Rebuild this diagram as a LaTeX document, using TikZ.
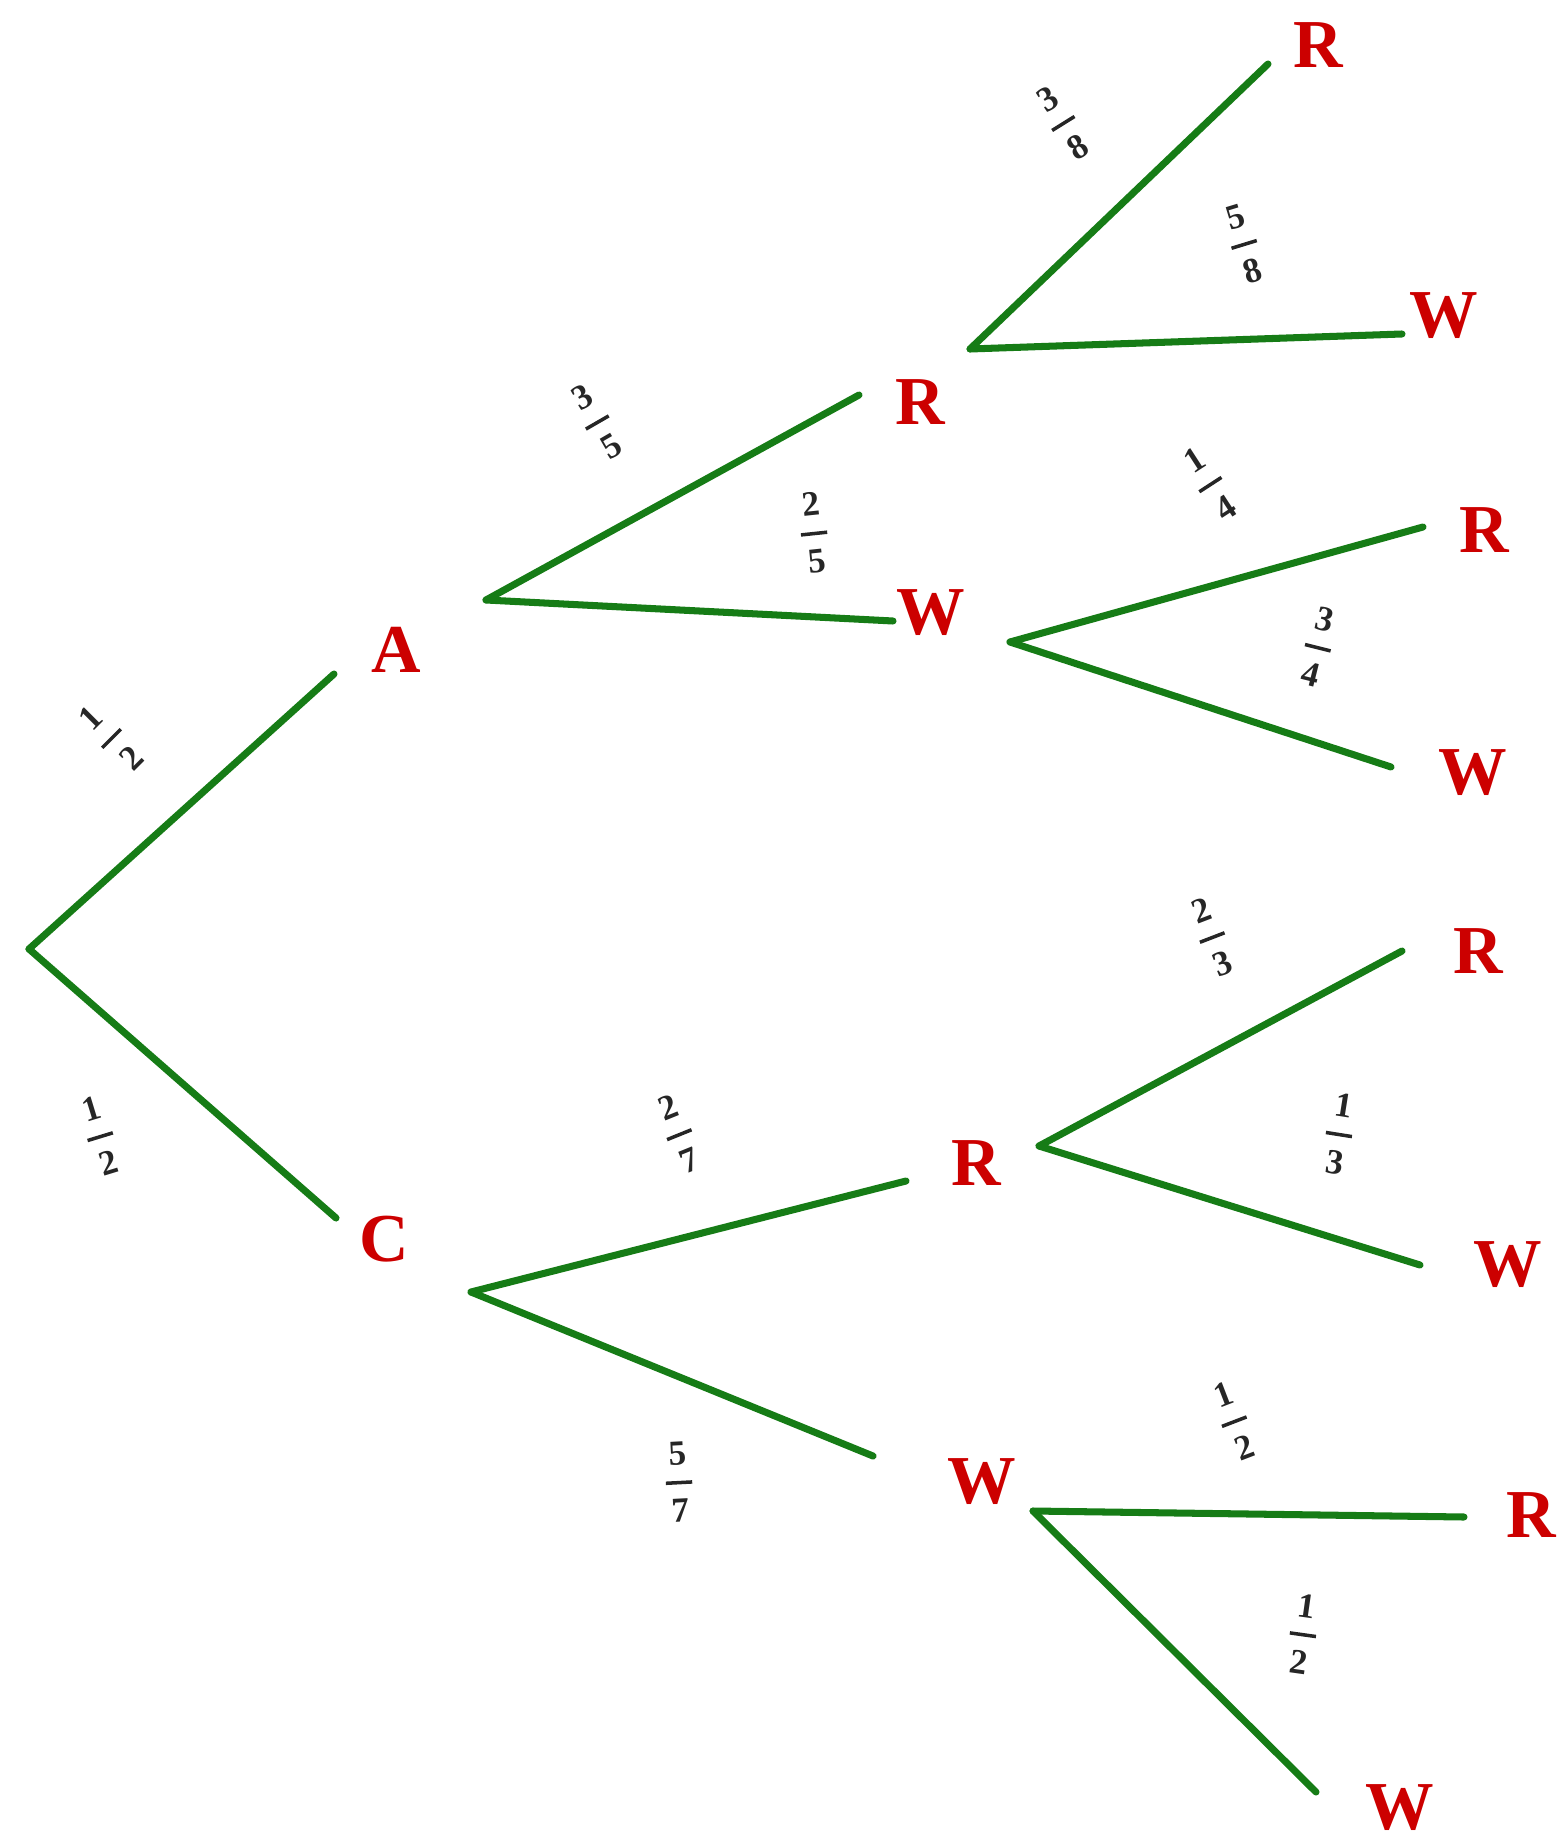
\documentclass[tikz,border=0pt]{standalone}
\usepackage{fontspec}
\setmainfont{Liberation Serif}
\usepackage{tikz}

\definecolor{treegreen}{RGB}{22,124,22}
\definecolor{treered}{RGB}{204,0,0}

\newcommand{\prob}[2]{#1\\\rule[2.6pt]{7.5pt}{1pt}\\#2}

\tikzset{
    branch/.style={treegreen, line width=2pt, line cap=round},
    outcome/.style={treered, font=\fontsize{19.5}{22}\selectfont\bfseries, inner sep=0pt},
    frac/.style={black!85, font=\fontsize{10}{8.1}\selectfont\bfseries, align=center, inner sep=0pt}
}

\begin{document}
\begin{tikzpicture}[x=0.01cm, y=-0.01cm]
    \useasboundingbox (0,0) rectangle (1564,1837);

    \coordinate (O) at (29, 949);
    \coordinate (Aend) at (334, 674);
    \coordinate (Cend) at (336, 1218);

    \coordinate (Afork) at (486, 600);
    \coordinate (ARend) at (859, 395);
    \coordinate (AWend) at (893, 621);

    \coordinate (ARfork) at (970, 349);
    \coordinate (ARRend) at (1268, 64);
    \coordinate (ARWend) at (1402, 334);

    \coordinate (AWfork) at (1010, 642);
    \coordinate (AWRend) at (1423, 527);
    \coordinate (AWWend) at (1391, 767);

    \coordinate (Cfork) at (471, 1292);
    \coordinate (CRend) at (906, 1181);
    \coordinate (CWend) at (873, 1456);

    \coordinate (CRfork) at (1039, 1146);
    \coordinate (CRRend) at (1402, 951);
    \coordinate (CRWend) at (1420, 1265);

    \coordinate (CWfork) at (1033, 1511);
    \coordinate (CWRend) at (1464, 1517);
    \coordinate (CWWend) at (1316, 1792);

    \foreach \a/\b in {O/Aend, O/Cend, Afork/ARend, Afork/AWend,
        ARfork/ARRend, ARfork/ARWend, AWfork/AWRend, AWfork/AWWend,
        Cfork/CRend, Cfork/CWend, CRfork/CRRend, CRfork/CRWend,
        CWfork/CWRend, CWfork/CWWend}
    \draw[branch] (\a) -- (\b);

    \node[outcome] (lA) at (396, 650) {A};
    \node[outcome] (lC) at (384, 1239) {C};
    \node[outcome] (lAR) at (920, 402) {R};
    \node[outcome] (lAW) at (931, 613) {W};
    \node[outcome] (lARR) at (1318, 45) {R};
    \node[outcome] (lARW) at (1444, 316) {W};
    \node[outcome] (lAWR) at (1484, 530) {R};
    \node[outcome] (lAWW) at (1473, 773) {W};
    \node[outcome] (lCR) at (976, 1163) {R};
    \node[outcome] (lCW) at (982, 1482) {W};
    \node[outcome] (lCRR) at (1478, 951) {R};
    \node[outcome] (lCRW) at (1508, 1265) {W};
    \node[outcome] (lCWR) at (1531, 1515) {R};
    \node[outcome] (lCWW) at (1400, 1808) {W};

    \node[frac, rotate=45] (pA) at (111, 738) {\prob{1}{2}};
    \node[frac, rotate=17] (pC) at (100, 1136) {\prob{1}{2}};
    \node[frac, rotate=30] (pAR) at (597, 422) {\prob{3}{5}};
    \node[frac, rotate=6] (pAW) at (814, 533) {\prob{2}{5}};
    \node[frac, rotate=32] (pARR) at (1063, 123) {\prob{3}{8}};
    \node[frac, rotate=17] (pARW) at (1244, 244) {\prob{5}{8}};
    \node[frac, rotate=33] (pAWR) at (1210, 484) {\prob{1}{4}};
    \node[frac, rotate=-14] (pAWW) at (1318, 647) {\prob{3}{4}};
    \node[frac, rotate=22] (pCR) at (679, 1134) {\prob{2}{7}};
    \node[frac, rotate=3] (pCW) at (679, 1482) {\prob{5}{7}};
    \node[frac, rotate=21] (pCRR) at (1212, 937) {\prob{2}{3}};
    \node[frac, rotate=-9] (pCRW) at (1339, 1134) {\prob{1}{3}};
    \node[frac, rotate=21] (pCWR) at (1234, 1421) {\prob{1}{2}};
    \node[frac, rotate=-8] (pCWW) at (1303, 1634) {\prob{1}{2}};
\end{tikzpicture}
\end{document}
